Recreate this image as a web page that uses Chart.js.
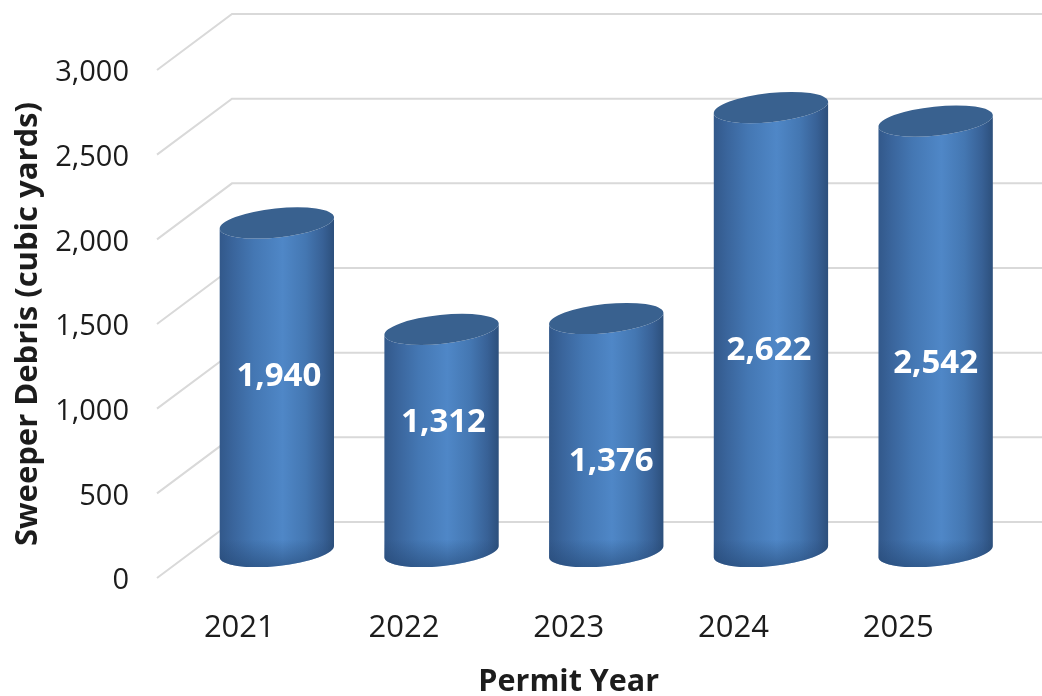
<!DOCTYPE html>
<html>
<head>
<meta charset="utf-8">
<title>Sweeper Debris</title>
<script src="https://cdn.jsdelivr.net/npm/chart.js@4"></script>
<style>
    html, body { margin: 0; padding: 0; background: #fff; }
    canvas { display: block; filter: blur(0.4px); }
</style>
</head>
<body>
<canvas id="grafico" width="1042" height="696"></canvas>
<script>
const years = ['2021', '2022', '2023', '2024', '2025'];
const debris = [1940, 1312, 1376, 2622, 2542];

// the labels sit off-centre in the original, nudged by hand
const labelNudgeY = [-10.5, -17.5, 26.5, 21.5, 27.5];
const labelNudgeX = [2, 2, 5, -2, 0];

const depthX = 75;
const depthY = -56;

Chart.defaults.font.family = '"Open Sans", sans-serif';
Chart.defaults.color = '#1c1c1c';

const walls = {
    id: 'walls',
    beforeDatasetsDraw(chart) {
        const { ctx, chartArea, scales } = chart;
        ctx.save();
        ctx.strokeStyle = '#d9d9d9';
        ctx.lineWidth = 2;
        scales.y.ticks.forEach(t => {
            const y = scales.y.getPixelForValue(t.value);
            ctx.beginPath();
            ctx.moveTo(chartArea.left, y);
            ctx.lineTo(chartArea.left + depthX, y + depthY);
            ctx.lineTo(chart.width, y + depthY);
            ctx.stroke();
        });
        ctx.restore();
    }
};

const cylinders = {
    id: 'cylinders',
    afterDatasetsDraw(chart) {
        const { ctx } = chart;
        const bars = chart.getDatasetMeta(0).data;
        const rot = -6 * Math.PI / 180;
        const ry = 14.5;

        bars.forEach((bar, i) => {
            const cx = bar.x + depthX / 2;
            const rx = bar.width / 2;
            const top = bar.y + depthY / 2 + 1.5;
            const bottom = bar.base + depthY / 2 + 1.5;
            const left = cx - rx;
            const right = cx + rx;

            ctx.save();
            ctx.beginPath();
            ctx.ellipse(cx, top, rx, ry, rot, Math.PI, 0, true);
            ctx.ellipse(cx, bottom, rx, ry, rot, 0, Math.PI, false);
            ctx.closePath();
            ctx.clip();

            const side = ctx.createLinearGradient(left, 0, right, 0);
            side.addColorStop(0, '#32588a');
            side.addColorStop(0.12, '#3a659c');
            side.addColorStop(0.3, '#4477b3');
            side.addColorStop(0.55, '#4f87c7');
            side.addColorStop(0.75, '#4477b2');
            side.addColorStop(0.9, '#386196');
            side.addColorStop(1, '#2c4f7b');
            ctx.fillStyle = side;
            ctx.fillRect(left - 2, top - 30, rx * 2 + 4, bottom - top + 60);

            const foot = ctx.createLinearGradient(0, bottom - 12, 0, bottom + 16);
            foot.addColorStop(0, 'rgba(35, 70, 115, 0)');
            foot.addColorStop(1, 'rgba(35, 70, 115, 0.6)');
            ctx.fillStyle = foot;
            ctx.fillRect(left - 2, bottom - 12, rx * 2 + 4, 30);
            ctx.restore();

            // tampa
            ctx.save();
            ctx.beginPath();
            ctx.ellipse(cx, top, rx, ry, rot, 0, Math.PI * 2);
            ctx.fillStyle = '#39618f';
            ctx.fill();
            ctx.restore();

            ctx.save();
            ctx.fillStyle = '#ffffff';
            ctx.font = 'bold 33px "Open Sans", sans-serif';
            ctx.textAlign = 'center';
            ctx.textBaseline = 'middle';
            ctx.fillText(
                debris[i].toLocaleString('en-US'),
                cx + labelNudgeX[i],
                (top + bottom) / 2 + labelNudgeY[i]
            );
            ctx.restore();
        });
    }
};

new Chart(document.getElementById('grafico'), {
    type: 'bar',
    data: {
        labels: years,
        datasets: [{
            data: debris,
            backgroundColor: 'rgba(0, 0, 0, 0)',
            borderWidth: 0,
            categoryPercentage: 1,
            barPercentage: 0.698
        }]
    },
    options: {
        responsive: false,
        animation: false,
        layout: { padding: { top: 70, right: 61.5, left: 0, bottom: 0 } },
        plugins: {
            legend: { display: false },
            tooltip: { enabled: false }
        },
        scales: {
            x: {
                afterFit(scale) { scale.height = 118; },
                grid: { display: false },
                border: { display: false },
                ticks: { padding: 24, font: { size: 31 } },
                title: {
                    display: true,
                    text: 'Permit Year',
                    font: { size: 30.5, weight: 'bold' },
                    padding: { top: 0, bottom: -5 }
                }
            },
            y: {
                min: 0,
                max: 3000,
                afterFit(scale) { scale.width = 157; },
                grid: { display: false },
                border: { display: false },
                ticks: {
                    stepSize: 500,
                    padding: 20,
                    labelOffset: 3,
                    font: { size: 29 },
                    callback: value => value.toLocaleString('en-US')
                },
                title: {
                    display: true,
                    text: 'Sweeper Debris (cubic yards)',
                    font: { size: 31, weight: 'bold' },
                    padding: { top: 10, bottom: 0 }
                }
            }
        }
    },
    plugins: [walls, cylinders]
});
</script>
</body>
</html>
